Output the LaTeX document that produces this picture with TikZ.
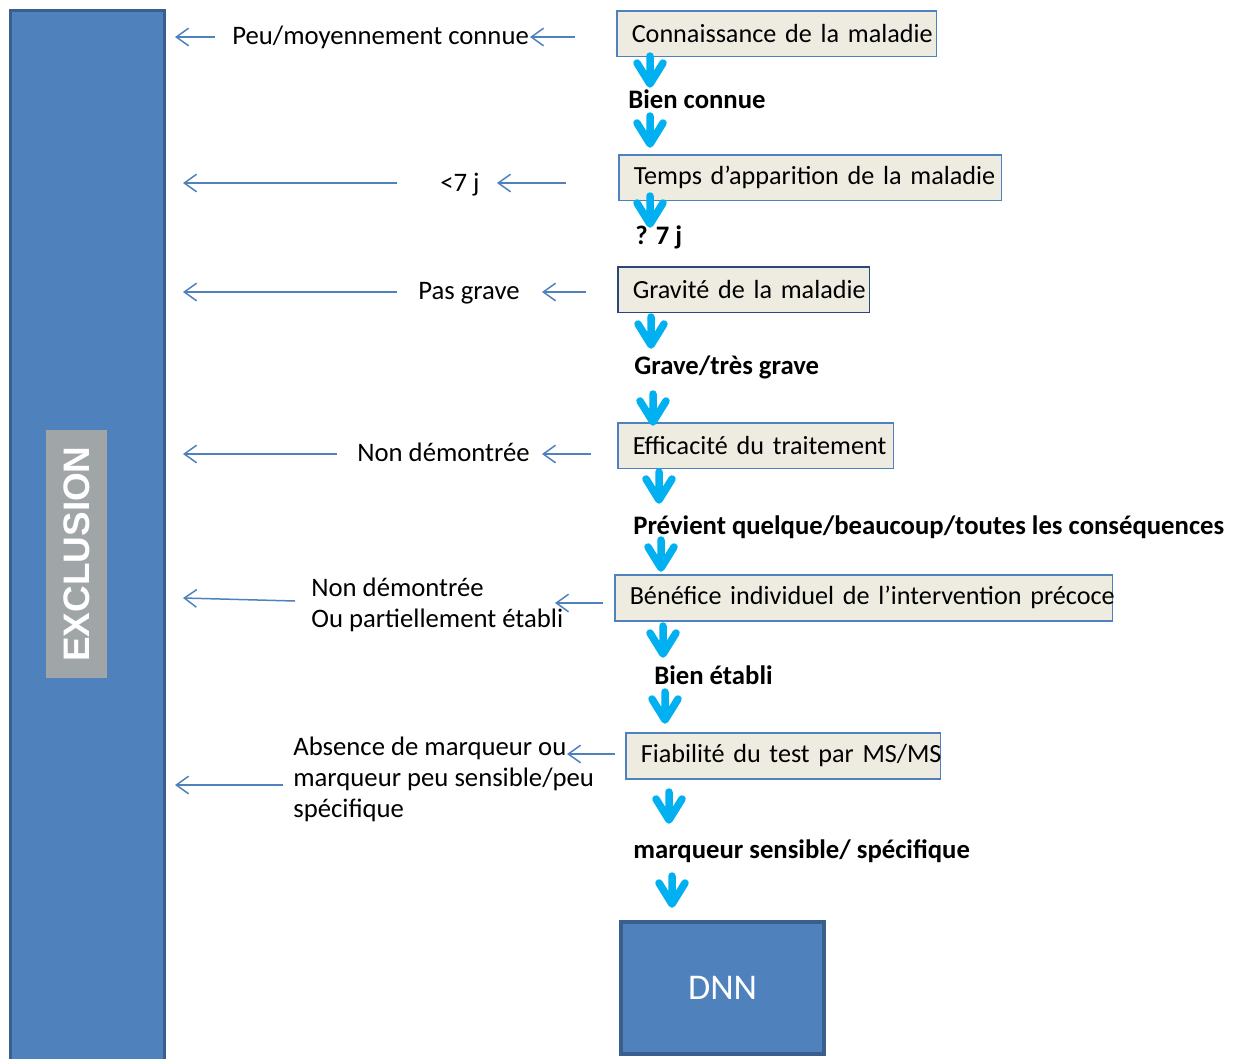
\documentclass[tikz,border=0pt]{standalone}
\usepackage{fontspec}
\setmainfont{Carlito}
\newfontfamily\arialfont{Liberation Sans}
\usetikzlibrary{arrows.meta}

\definecolor{exclblue}{HTML}{4F81BD}
\definecolor{excledge}{HTML}{3A5F8E}
\definecolor{darkedge}{HTML}{2C4677}
\definecolor{boxfill}{HTML}{EEECE1}
\definecolor{lblgray}{HTML}{A0A5A8}
\definecolor{arrcyan}{HTML}{00B0F0}

\newcommand\txtsize{\fontsize{15.2pt}{17.6pt}\selectfont}

\tikzset{
  box/.style={draw=exclblue, fill=boxfill, line width=0.03cm, minimum height=0.92cm,
    inner xsep=0.3cm, inner ysep=0pt, align=left, anchor=north west,
    font=\fontsize{14.9pt}{17.6pt}\selectfont},
  larrow/.style={draw=exclblue, line width=0.03cm, -{Straight Barb[length=7pt,width=10pt]}},
  lbl/.style={inner sep=0pt, anchor=base west},
  lbllines/.style={inner sep=0pt, anchor=north west, align=left},
  res/.style={inner sep=0pt, anchor=base west, font=\txtsize\bfseries},
  chevron/.pic={
    \draw[arrcyan, line width=0.15cm, line cap=round, line join=round]
      (0,0) -- (0,24) (-13,7) -- (0,28) -- (13,7);
  }
}

\begin{document}
\begin{tikzpicture}[x=0.02cm, y=-0.02cm, font=\txtsize]
  \useasboundingbox (0,0) rectangle (1235,1059);

  % exclusion bar
  \node[draw=excledge, fill=exclblue, line width=0.06cm, minimum width=3.1cm,
    minimum height=21.2cm, inner sep=0pt] (excl) at (87.5,540) {};
  \node[fill=lblgray, text=white, rotate=90, minimum width=4.96cm, minimum height=1.22cm,
    inner sep=0pt, font=\arialfont\bfseries\fontsize{21pt}{24pt}\selectfont] (exlbl) at (76.5,554) {EXCLUSION};

  % criteria
  \node[box, text width=5.8cm] (k1) at (616,10) {\mbox{Connaissance de la maladie}};
  \node[box, text width=7.06cm] (k2) at (618,154) {\mbox{Temps d’apparition de la maladie}};
  \node[box, draw=darkedge, text width=4.44cm] (k3) at (617,266) {\mbox{Gravité de la maladie}};
  \node[box, text width=4.92cm] (k4) at (617,422) {\mbox{Efficacité du traitement}};
  \node[box, text width=9.36cm] (k5) at (614,574) {\mbox{Bénéfice individuel de l’intervention précoce}};
  \node[box, text width=5.7cm] (k6) at (625,732) {\mbox{Fiabilité du test par MS/MS}};

  \node[draw=excledge, fill=exclblue, line width=0.08cm, minimum width=4.06cm,
    minimum height=2.64cm, text=white, font=\fontsize{20.6pt}{24pt}\selectfont] (dnn) at (722.5,988) {DNN};

  % answers
  \node[res] (r1) at (628,108) {Bien connue};
  \node[res] (r2) at (635,244) {? 7 j};
  \node[res] (r3) at (634,374) {Grave/très grave};
  \node[res] (r4) at (633,534) {Prévient quelque/beaucoup/toutes les conséquences};
  \node[res] (r5) at (654,684) {Bien établi};
  \node[res] (r6) at (633,858) {marqueur sensible/ spécifique};

  \pic at (650,56) {chevron};
  \pic at (650,116) {chevron};
  \pic at (650,196) {chevron};
  \pic at (651,317) {chevron};
  \pic at (653,394) {chevron};
  \pic at (659,472) {chevron};
  \pic at (661,540) {chevron};
  \pic at (663,626) {chevron};
  \pic at (665,692) {chevron};
  \pic at (669,792) {chevron};
  \pic at (672,876) {chevron};

  % exclusion side
  \node[lbl] (t1) at (232,44) {Peu/moyennement connue};
  \node[lbl] (t2) at (440,191) {<7 j};
  \node[lbl] (t3) at (418,299) {Pas grave};
  \node[lbl] (t4) at (357,461) {Non démontrée};
  \node[lbllines] (t5) at (311,578) {Non démontrée\\Ou partiellement établi};
  \node[lbllines] (t6) at (293,737) {Absence de marqueur ou\\marqueur peu sensible/peu\\spécifique};

  \coordinate (a1) at (575,37);  \coordinate (b1) at (530,37);
  \coordinate (c1) at (215,37);  \coordinate (d1) at (175,37);
  \coordinate (a2) at (566,183); \coordinate (b2) at (497,183);
  \coordinate (c2) at (397,183); \coordinate (d2) at (183,183);
  \coordinate (a3) at (586,292); \coordinate (b3) at (542,292);
  \coordinate (c3) at (397,292); \coordinate (d3) at (183,292);
  \coordinate (a4) at (591,454); \coordinate (b4) at (542,454);
  \coordinate (c4) at (337,454); \coordinate (d4) at (183,454);
  \coordinate (a5) at (603,603); \coordinate (b5) at (555,603);
  \coordinate (c5) at (295,601); \coordinate (d5) at (183,598);
  \coordinate (a6) at (615,754); \coordinate (b6) at (567,754);
  \coordinate (c6) at (283,785); \coordinate (d6) at (175,785);

  \draw[larrow] (a1) -- (b1);
  \draw[larrow] (c1) -- (d1);
  \draw[larrow] (a2) -- (b2);
  \draw[larrow] (c2) -- (d2);
  \draw[larrow] (a3) -- (b3);
  \draw[larrow] (c3) -- (d3);
  \draw[larrow] (a4) -- (b4);
  \draw[larrow] (c4) -- (d4);
  \draw[larrow] (a5) -- (b5);
  \draw[larrow] (c5) -- (d5);
  \draw[larrow] (a6) -- (b6);
  \draw[larrow] (c6) -- (d6);

\end{tikzpicture}
\end{document}
